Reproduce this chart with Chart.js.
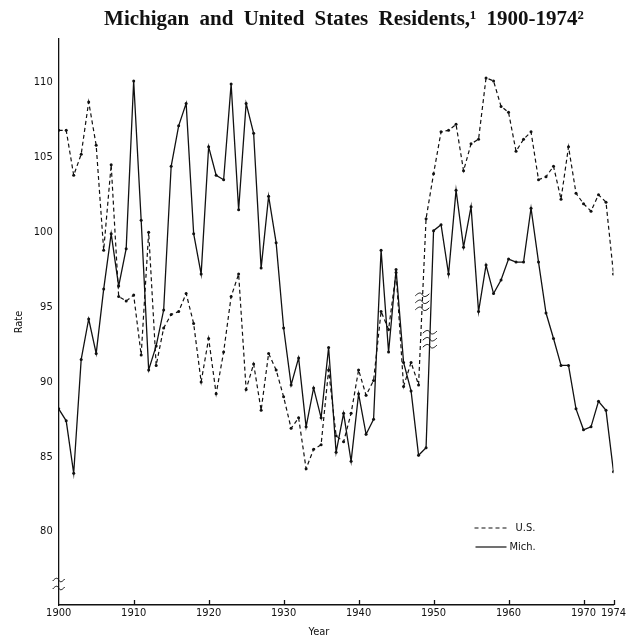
<!DOCTYPE html>
<html>
<head>
<meta charset="utf-8">
<title>Michigan and United States Residents, 1900-1974</title>
<script src="https://cdn.jsdelivr.net/npm/chart.js@4.4.1/dist/chart.umd.min.js"></script>
<style>
  html, body { margin: 0; padding: 0; background: #fff; }
  canvas { display: block; }
</style>
</head>
<body>
<canvas id="rateChart" width="634" height="642"></canvas>
<script>
// --- data ---
const years = [
  1900, 1901, 1902, 1903, 1904, 1905, 1906, 1907, 1908, 1909,
  1910, 1911, 1912, 1913, 1914, 1915, 1916, 1917, 1918, 1919,
  1920, 1921, 1922, 1923, 1924, 1925, 1926, 1927, 1928, 1929,
  1930, 1931, 1932, 1933, 1934, 1935, 1936, 1937, 1938, 1939,
  1940, 1941, 1942, 1943, 1944, 1945, 1946, 1947, 1948, 1949,
  1950, 1951, 1952, 1953, 1954, 1955, 1956, 1957, 1958, 1959,
  1960, 1961, 1962, 1963, 1964, 1965, 1966, 1967, 1968, 1969,
  1970, 1971, 1972, 1973, 1974
];

const usRate = [
  106.8, 106.8, 103.8, 105.2, 108.7, 105.8, 98.8, 104.5, 95.7, 95.4,
  95.8, 91.8, 100.0, 91.1, 93.6, 94.5, 94.7, 95.9, 93.9, 90.0,
  92.9, 89.2, 92.0, 95.7, 97.2, 89.5, 91.2, 88.1, 91.9, 90.8,
  89.0, 86.9, 87.6, 84.2, 85.5, 85.8, 90.8, 86.4, 86.0, 87.9,
  90.8, 89.1, 90.1, 94.7, 93.5, 97.3, 89.7, 91.3, 89.8, 100.9,
  103.9, 106.7, 106.8, 107.2, 104.1, 105.9, 106.2, 110.3, 110.1, 108.4,
  108.0, 105.4, 106.2, 106.7, 103.5, 103.7, 104.4, 102.2, 105.7, 102.6,
  101.9, 101.4, 102.5, 102.0, 97.2
];

const michRate = [
  88.2, 87.4, 83.9, 91.5, 94.2, 91.9, 96.2, 99.9, 96.4, 98.9,
  110.1, 100.8, 90.8, 92.4, 94.8, 104.4, 107.1, 108.6, 99.9, 97.2,
  105.7, 103.8, 103.5, 109.9, 101.5, 108.6, 106.6, 97.6, 102.4, 99.3,
  93.6, 89.8, 91.6, 87.0, 89.6, 87.6, 92.3, 85.3, 87.9, 84.7,
  89.2, 86.5, 87.5, 98.8, 92.0, 97.5, 91.3, 89.4, 85.1, 85.6,
  100.1, 100.5, 97.2, 102.8, 99.0, 101.7, 94.7, 97.8, 95.9, 96.8,
  98.2, 98.0, 98.0, 101.6, 98.0, 94.6, 92.9, 91.1, 91.1, 88.2,
  86.8, 87.0, 88.7, 88.1, 84.0
];

const xTicks = [1900, 1910, 1920, 1930, 1940, 1950, 1960, 1970, 1974];
const yTicks = [80, 85, 90, 95, 100, 105, 110];

// last year before the break in each series (series is re-based after it)
const usBreakYear = 1948;
const michBreakYear = 1949;

const INK = '#111';
const NARROW = '"Liberation Sans Narrow", "DejaVu Sans Condensed", "Liberation Sans", sans-serif';
const SERIF = '"Liberation Serif", "DejaVu Serif", serif';

function toPoints(values) {
  return years.map((yr, i) => ({ x: yr, y: values[i] }));
}

// little "~" used for the scale breaks
function tilde(ctx, cx, cy, half) {
  ctx.beginPath();
  ctx.moveTo(cx - half, cy + 1);
  ctx.bezierCurveTo(cx - half * 0.5, cy - 2.5, cx - half * 0.2, cy - 2.5, cx, cy);
  ctx.bezierCurveTo(cx + half * 0.2, cy + 2.5, cx + half * 0.5, cy + 2.5, cx + half, cy - 1);
  ctx.stroke();
}

function breakMarks(chart, dsIndex, breakYear) {
  const pts = chart.getDatasetMeta(dsIndex).data;
  const i = years.indexOf(breakYear);
  const a = pts[i], b = pts[i + 1];
  const mx = (a.x + b.x) / 2, my = (a.y + b.y) / 2;
  const ctx = chart.ctx;
  [-7, 0, 7].forEach(d => tilde(ctx, mx, my + d, 7));
}

const decor = {
  id: 'decor',
  afterDraw(chart) {
    const { ctx, chartArea: area, scales: { x } } = chart;
    ctx.save();
    ctx.strokeStyle = INK;
    ctx.fillStyle = INK;

    // inward tick marks on the year axis
    ctx.lineWidth = 1.3;
    xTicks.slice(1).forEach(v => {
      const px = Math.round(x.getPixelForValue(v)) + 0.5;
      ctx.beginPath();
      ctx.moveTo(px, area.bottom);
      ctx.lineTo(px, area.bottom - 5);
      ctx.stroke();
    });

    // break on the rate axis and on both series
    ctx.lineWidth = 1;
    tilde(ctx, area.left, area.bottom - 25, 6);
    tilde(ctx, area.left, area.bottom - 17, 6);
    breakMarks(chart, 0, usBreakYear);
    breakMarks(chart, 1, michBreakYear);

    // key, bottom right inside the plot
    const kx = area.right - 139;
    const ky = area.bottom - 77;
    ctx.lineWidth = 1.2;
    ctx.setLineDash([4, 3]);
    ctx.beginPath(); ctx.moveTo(kx, ky); ctx.lineTo(kx + 32, ky); ctx.stroke();
    ctx.setLineDash([]);
    ctx.beginPath(); ctx.moveTo(kx + 1, ky + 19); ctx.lineTo(kx + 32, ky + 19); ctx.stroke();
    ctx.font = '11px ' + NARROW;
    ctx.textBaseline = 'middle';
    ctx.textAlign = 'left';
    ctx.fillText('U.S.', kx + 41, ky);
    ctx.fillText('Mich.', kx + 35, ky + 19);

    // heading and year caption
    ctx.textAlign = 'center';
    ctx.font = 'bold 21px ' + SERIF;
    ctx.wordSpacing = '5px';
    ctx.fillText('Michigan and United States Residents,\u00B9 1900-1974\u00B2', 344, 20);
    ctx.wordSpacing = '0px';
    ctx.font = '11px ' + NARROW;
    ctx.fillText('Year', 319, 632);
    ctx.restore();
  }
};

const tickFont = { family: NARROW, size: 11 };

new Chart(document.getElementById('rateChart').getContext('2d'), {
  type: 'line',
  data: {
    datasets: [
      {
        label: 'U.S.',
        data: toPoints(usRate),
        borderColor: INK,
        borderWidth: 1.2,
        borderDash: [4, 3],
        pointRadius: 1.5,
        pointBackgroundColor: INK,
        pointBorderWidth: 0,
        tension: 0,
        fill: false
      },
      {
        label: 'Mich.',
        data: toPoints(michRate),
        borderColor: INK,
        borderWidth: 1.3,
        pointRadius: 1.5,
        pointBackgroundColor: INK,
        pointBorderWidth: 0,
        tension: 0,
        fill: false
      }
    ]
  },
  options: {
    responsive: false,
    animation: false,
    events: [],
    layout: { padding: { top: 39, right: 20.5, bottom: 0, left: 0 } },
    plugins: {
      legend: { display: false },
      tooltip: { enabled: false },
      title: { display: false }
    },
    scales: {
      x: {
        type: 'linear',
        min: 1900,
        max: 1974,
        afterBuildTicks: s => { s.ticks = xTicks.map(v => ({ value: v })); },
        afterFit: s => { s.height = 37; },
        grid: { display: false, drawTicks: false },
        border: { color: INK, width: 1.6 },
        ticks: {
          color: INK,
          font: tickFont,
          padding: 2,
          maxRotation: 0,
          autoSkip: false,
          callback: v => String(v)
        }
      },
      y: {
        min: 75.1,
        max: 112.9,
        afterBuildTicks: s => { s.ticks = yTicks.map(v => ({ value: v })); },
        afterFit: s => { s.width = 58.7; },
        grid: { display: false, drawTicks: false },
        border: { color: INK, width: 1.3 },
        ticks: { color: INK, font: tickFont, padding: 6 },
        title: {
          display: true,
          text: 'Rate',
          color: INK,
          font: tickFont,
          padding: { top: 13, bottom: 0 }
        }
      }
    }
  },
  plugins: [decor]
});
</script>
</body>
</html>
